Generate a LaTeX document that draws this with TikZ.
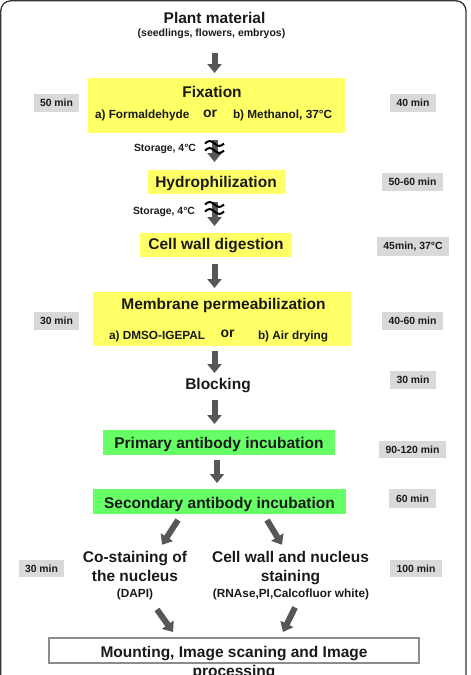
\documentclass[tikz,border=0pt]{standalone}
\usepackage{fontspec}
\setmainfont{Liberation Sans}
\usetikzlibrary{arrows.meta,calc}
\definecolor{boxyellow}{HTML}{FFFF66}
\definecolor{boxgreen}{HTML}{66FF66}
\definecolor{timegray}{HTML}{D9D9D9}
\definecolor{arrowgray}{HTML}{575757}
\definecolor{ink}{HTML}{1A1A1A}
\definecolor{framegray}{HTML}{333333}
\definecolor{mountgray}{HTML}{8C8C8C}
\begin{document}
\begin{tikzpicture}[x=1pt,y=-1pt,
  every node/.style={inner sep=0pt, outer sep=0pt, text=ink},
  big/.style={font=\fontsize{15.5}{19}\selectfont\bfseries, anchor=base},
  sub/.style={font=\fontsize{11.8}{14}\selectfont\bfseries, anchor=base},
  orword/.style={font=\fontsize{14}{16}\selectfont\bfseries, anchor=base},
  small/.style={font=\fontsize{10.4}{12}\selectfont\bfseries, anchor=base},
  timebox/.style={fill=timegray, minimum height=18pt, font=\fontsize{10.4}{12}\selectfont\bfseries},
  ybox/.style={fill=boxyellow},
  gbox/.style={fill=boxgreen},
  barrow/.style={draw=arrowgray, line width=6pt, -{Triangle[width=14pt,length=9pt]}},
  wave/.style={draw=black, line width=2pt},
]
\useasboundingbox (0,0) rectangle (471,675);
\clip (0,0) rectangle (471,675);
\draw[framegray, line width=1.3pt, rounded corners=10pt] (0.8,0.8) rectangle (466,720);

\coordinate (col) at (214.5,0);
\coordinate (col2) at (217,0);

% ---- boxes ----
\node[ybox, minimum width=257pt, minimum height=55pt] (fixbox) at (216.5,105.5) {};
\node[ybox, minimum width=137pt, minimum height=24pt] (hydbox) at (216.5,182) {};
\node[ybox, minimum width=152pt, minimum height=24pt] (cellbox) at (216,245) {};
\node[ybox, minimum width=258pt, minimum height=54pt] (membox) at (222,319) {};
\node[gbox, minimum width=232pt, minimum height=25pt] (primbox) at (219,442.5) {};
\node[gbox, minimum width=253pt, minimum height=25pt] (secbox) at (219.5,501.5) {};
\node[draw=mountgray, line width=1.2pt, fill=white, minimum width=370pt, minimum height=25pt] (mountbox) at (234,650.5) {};

% ---- texts ----
\node[big] (plant) at (214.5,23) {Plant material};
\node[small, font=\fontsize{10.5}{12}\selectfont\bfseries] (seed) at (211.5,36) {(seedlings, flowers, embryos)};
\node[big] (fixt) at (212,97) {Fixation};
\node[sub, anchor=base west] (fixa) at (95,118) {a) Formaldehyde};
\node[orword] (fixor) at (210,117) {or};
\node[sub, anchor=base west] (fixb) at (233,118) {b) Methanol, 37°C};
\node[small, anchor=base west] (stor1) at (134,151) {Storage, 4°C};
\node[big] (hydt) at (216,187) {Hydrophilization};
\node[small, anchor=base west] (stor2) at (133,214) {Storage, 4°C};
\node[big] (cellt) at (216,249.5) {Cell wall digestion};
\node[big] (memt) at (223.5,309) {Membrane permeabilization};
\node[sub, anchor=base west] (mema) at (109,339) {a) DMSO-IGEPAL};
\node[orword] (memor) at (227.5,337) {or};
\node[sub, anchor=base west] (memb) at (258,339) {b) Air drying};
\node[big] (block) at (218,389) {Blocking};
\node[big] (primt) at (219,448) {Primary antibody incubation};
\node[big] (sect) at (219.5,508) {Secondary antibody incubation};
\node[big] (co1) at (135,562) {Co-staining of};
\node[big] (co2) at (135,581) {the nucleus};
\node[sub] (co3) at (135,597) {(DAPI)};
\node[big] (cw1) at (290.5,562) {Cell wall and nucleus};
\node[big] (cw2) at (290.5,581) {staining};
\node[sub] (cw3) at (291,597) {(RNAse,PI,Calcofluor white)};
\node[big] (mount1) at (234,657) {Mounting, Image scaning and Image};
\node[big] (mount2) at (234,676) {processing};

% ---- time boxes ----
\node[timebox, minimum width=45pt] (t1) at (56.5,103) {50 min};
\node[timebox, minimum width=46pt] (t2) at (413,103) {40 min};
\node[timebox, minimum width=61pt] (t3) at (412.5,182) {50-60 min};
\node[timebox, minimum width=72pt, minimum height=19pt] (t4) at (413,246.5) {45min, 37°C};
\node[timebox, minimum width=45pt] (t5) at (56.5,321) {30 min};
\node[timebox, minimum width=61pt] (t6) at (412.5,321) {40-60 min};
\node[timebox, minimum width=46pt] (t7) at (413,380) {30 min};
\node[timebox, minimum width=67pt, minimum height=17pt] (t8) at (412.5,449.5) {90-120 min};
\node[timebox, minimum width=47pt, minimum height=19pt] (t9) at (412.5,498.5) {60 min};
\node[timebox, minimum width=45pt, minimum height=17pt] (t10) at (41.5,568.5) {30 min};
\node[timebox, minimum width=52pt, minimum height=17pt] (t11) at (416,568.5) {100 min};

% ---- arrows ----
\draw[barrow] ($(col |- seed.base)+(0,17)$) -- ($(col |- fixbox.north)+(0,-5)$);
\draw[barrow] ($(col |- fixbox.south)+(0,7)$) -- ($(col |- hydbox.north)+(0,-8)$);
\draw[wave] ($(col |- fixbox.south)+(-9.5,10.5)$) sin ++(4.75,-2.5) cos ++(4.75,2.5) sin ++(4.75,2.5) cos ++(4.75,-2.5);
\draw[wave] ($(col |- fixbox.south)+(-9.5,17.5)$) sin ++(4.75,-2.5) cos ++(4.75,2.5) sin ++(4.75,2.5) cos ++(4.75,-2.5);
\draw[barrow] ($(col |- hydbox.south)+(0,8)$) -- ($(col |- cellbox.north)+(0,-7)$);
\draw[wave] ($(col |- hydbox.south)+(-9.5,10.5)$) sin ++(4.75,-2.5) cos ++(4.75,2.5) sin ++(4.75,2.5) cos ++(4.75,-2.5);
\draw[wave] ($(col |- hydbox.south)+(-9.5,17.5)$) sin ++(4.75,-2.5) cos ++(4.75,2.5) sin ++(4.75,2.5) cos ++(4.75,-2.5);
\draw[barrow] ($(col |- cellbox.south)+(0,7)$) -- ($(col |- membox.north)+(0,-4)$);
\draw[barrow] ($(col |- membox.south)+(0,5)$) -- ($(col |- block.base)+(0,-16)$);
\draw[barrow] ($(col |- block.base)+(0,11)$) -- ($(col |- primbox.north)+(0,-6)$);
\draw[barrow] ($(col2 |- primbox.south)+(0,5)$) -- ($(col2 |- secbox.north)+(0,-6)$);
\draw[barrow] ($(secbox.south)+(-41.5,6)$) -- ($(co1.north)+(27,-6)$);
\draw[barrow] ($(secbox.south)+(47.5,6)$) -- ($(cw1.north)+(-8.5,-6)$);
\draw[barrow] ($(co3.south)+(22,10)$) -- ($(mountbox.north)+(-61,-6)$);
\draw[barrow] ($(cw3.south)+(4,8)$) -- ($(mountbox.north)+(49,-6)$);
\end{tikzpicture}
\end{document}
